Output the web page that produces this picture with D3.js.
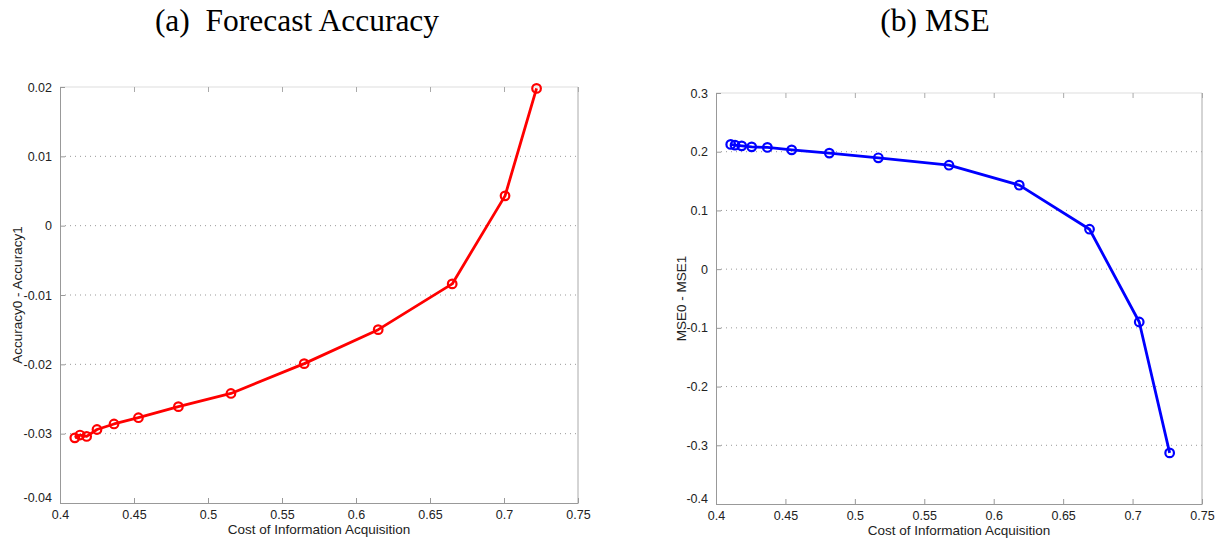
<!DOCTYPE html>
<html><head><meta charset="utf-8">
<script src="https://cdn.jsdelivr.net/npm/d3@7"></script>
<style>body{margin:0;background:#fff;}svg{display:block;}</style>
</head><body>
<svg id="c" width="1225" height="541"></svg>
<script>
// Data
const costA = [0.410, 0.4135, 0.418, 0.425, 0.4365, 0.453, 0.480, 0.5155, 0.565, 0.615, 0.665, 0.7007, 0.722];
const accDiff = [-0.0306, -0.0302, -0.0304, -0.0294, -0.0286, -0.0277, -0.0261, -0.0242, -0.0199, -0.0150, -0.0084, 0.0043, 0.0198];
const costB = [0.4106, 0.4137, 0.4185, 0.4257, 0.437, 0.4545, 0.4816, 0.5169, 0.5678, 0.6184, 0.669, 0.7048, 0.7267];
const mseDiff = [0.2124, 0.2112, 0.2100, 0.2083, 0.2073, 0.2032, 0.1976, 0.1896, 0.1770, 0.1430, 0.0680, -0.0900, -0.3130];
const xTicks = [0.4, 0.45, 0.5, 0.55, 0.6, 0.65, 0.7, 0.75];
const yTicksA = [-0.04, -0.03, -0.02, -0.01, 0, 0.01, 0.02];
const yTicksB = [-0.4, -0.3, -0.2, -0.1, 0, 0.1, 0.2, 0.3];

const svg = d3.select("#c");
const fmt = d => (d === 0 ? "0" : String(+d.toFixed(2)));

function panel(o) {
  const x = d3.scaleLinear().domain([0.4, 0.75]).range([o.x0, o.x1]);
  const y = d3.scaleLinear().domain(o.ydom).range([o.y1, o.y0]);
  const g = svg.append("g");
  // title
  g.append("text").attr("x", o.tx).attr("y", 31).attr("text-anchor", "middle")
    .attr("font-family", "Liberation Serif, Times New Roman, serif").attr("font-size", 31.5)
    .attr("fill", "#000").attr("xml:space", "preserve").text(o.title);
  // grid
  g.append("g").selectAll("line").data(o.yticks.slice(1, -1)).join("line")
    .attr("x1", o.x0).attr("x2", o.x1).attr("y1", d => y(d)).attr("y2", d => y(d))
    .attr("stroke", "#999").attr("stroke-width", 1).attr("stroke-dasharray", "1,4");
  // box
  g.append("line").attr("x1", o.x0).attr("x2", o.x1).attr("y1", o.y0).attr("y2", o.y0)
    .attr("stroke", "#ddd").attr("stroke-width", 1);
  g.append("line").attr("x1", o.x1).attr("x2", o.x1).attr("y1", o.y0).attr("y2", o.y1)
    .attr("stroke", "#aaa").attr("stroke-width", 1);
  // axes
  const xa = g.append("g").attr("transform", `translate(0,${o.y1})`)
    .call(d3.axisBottom(x).tickValues(xTicks).tickFormat(d => String(+d.toFixed(2))).tickSizeInner(-5).tickSizeOuter(0).tickPadding(7));
  const xt = g.append("g").attr("transform", `translate(0,${o.y0})`)
    .call(d3.axisTop(x).tickValues(xTicks).tickFormat("").tickSizeInner(-5).tickSizeOuter(0));
  xt.select(".domain").remove();
  xt.selectAll("line").attr("stroke", "#aaa");
  const ya = g.append("g").attr("transform", `translate(${o.x0},0)`)
    .call(d3.axisLeft(y).tickValues(o.yticks).tickFormat(fmt).tickSizeInner(-5).tickSizeOuter(0).tickPadding(8));
  [xa, ya].forEach(a => {
    a.select(".domain").attr("stroke", "#999");
    a.selectAll(".tick line").attr("stroke", "#999");
    a.selectAll("text").attr("font-family", "Liberation Sans, Arial, sans-serif")
      .attr("font-size", 12.5).attr("fill", "#222");
  });
  ya.selectAll(".tick").filter(d => d === o.ydom[0]).select("text").attr("dy", "-0.1em");
  // labels
  g.append("text").attr("x", (o.x0 + o.x1) / 2).attr("y", o.y1 + 31).attr("text-anchor", "middle")
    .attr("font-family", "Liberation Sans, Arial, sans-serif").attr("font-size", 13.5).attr("fill", "#222")
    .text("Cost of Information Acquisition");
  g.append("text").attr("transform", `translate(${o.lx},${(o.y0 + o.y1) / 2}) rotate(-90)`)
    .attr("text-anchor", "middle")
    .attr("font-family", "Liberation Sans, Arial, sans-serif").attr("font-size", 13.5).attr("fill", "#222")
    .text(o.ylabel);
  // series
  const pts = o.xs.map((v, i) => [v, o.ys[i]]);
  g.append("path").datum(pts)
    .attr("d", d3.line().x(d => x(d[0])).y(d => y(d[1])))
    .attr("fill", "none").attr("stroke", o.color).attr("stroke-width", 2.8).attr("stroke-linejoin", "round");
  g.append("g").selectAll("circle").data(pts).join("circle")
    .attr("cx", d => x(d[0])).attr("cy", d => y(d[1])).attr("r", 4.3)
    .attr("fill", "none").attr("stroke", o.color).attr("stroke-width", 2.2);
}

panel({x0: 60, x1: 578, y0: 87, y1: 503, ydom: [-0.04, 0.02], yticks: yTicksA,
  xs: costA, ys: accDiff, color: "#ff0000", title: "(a)  Forecast Accuracy", tx: 297,
  ylabel: "Accuracy0 - Accuracy1", lx: 22});
panel({x0: 716, x1: 1202, y0: 93, y1: 504, ydom: [-0.4, 0.3], yticks: yTicksB,
  xs: costB, ys: mseDiff, color: "#0000ff", title: "(b) MSE", tx: 935,
  ylabel: "MSE0 - MSE1", lx: 686});
</script>
</body></html>
